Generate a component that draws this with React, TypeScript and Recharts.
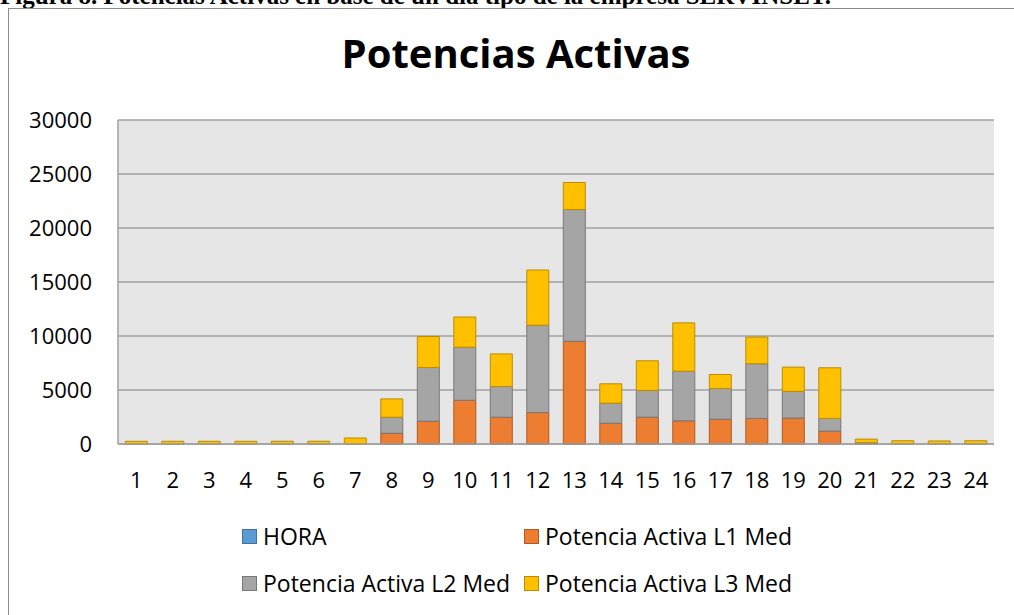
import { BarChart, Bar, XAxis, YAxis, CartesianGrid } from "recharts"

const horas = ["1", "2", "3", "4", "5", "6", "7", "8", "9", "10", "11", "12", "13", "14", "15", "16", "17", "18", "19", "20", "21", "22", "23", "24"]
const horaValues = [1, 2, 3, 4, 5, 6, 7, 8, 9, 10, 11, 12, 13, 14, 15, 16, 17, 18, 19, 20, 21, 22, 23, 24]
const l1Med = [0, 0, 0, 0, 0, 0, 0, 990, 2100, 4040, 2470, 2900, 9500, 1910, 2470, 2130, 2280, 2350, 2380, 1170, 50, 0, 0, 0]
const l2Med = [0, 0, 0, 0, 0, 0, 0, 1480, 4970, 4910, 2840, 8090, 12200, 1860, 2470, 4600, 2840, 5060, 2470, 1180, 50, 0, 0, 0]
const l3Med = [250, 250, 250, 250, 250, 250, 550, 1700, 2870, 2800, 3020, 5110, 2500, 1790, 2750, 4470, 1300, 2470, 2250, 4690, 330, 280, 260, 280]
const yTicks = [0, 5000, 10000, 15000, 20000, 25000, 30000]

const data = horas.map((h, i) => ({
  name: h,
  hora: horaValues[i],
  l1: l1Med[i],
  l2: l2Med[i],
  l3: l3Med[i],
}))

const font = "'Open Sans', sans-serif"

const legendItems = [
  { label: "HORA", color: "#5B9BD5", border: "#41719c", x: 242, y: 536 },
  { label: "Potencia Activa L1 Med", color: "#ED7D31", border: "#ae5a21", x: 524, y: 536 },
  { label: "Potencia Activa L2 Med", color: "#A5A5A5", border: "#787878", x: 242, y: 583 },
  { label: "Potencia Activa L3 Med", color: "#FFC000", border: "#bc8c00", x: 524, y: 583 },
]

export default function App() {
  return (
    <div style={{ position: "absolute", left: 0, top: 0, width: 1014, height: 615, overflow: "hidden", background: "#fff" }}>
      {/* caption above the figure, cut off by the top edge as in the source */}
      <div
        style={{
          position: "absolute",
          left: 0,
          top: -17,
          fontFamily: "'Liberation Serif', serif",
          fontWeight: "bold",
          fontSize: 25,
          lineHeight: "25px",
          whiteSpace: "nowrap",
        }}
      >
        Figura 8. Potencias Activas en base de un día tipo de la empresa SERVINSET.
      </div>
      <div style={{ position: "absolute", left: 8, top: 8, width: 1010, height: 620, borderLeft: "1px solid #8c8c8c", borderTop: "1px solid #8c8c8c" }} />
      <div
        style={{
          position: "absolute",
          left: 0,
          width: 1032,
          top: 33,
          textAlign: "center",
          fontFamily: font,
          fontWeight: "bold",
          fontSize: 40,
          lineHeight: 1,
        }}
      >
        Potencias Activas
      </div>
      <div style={{ position: "absolute", left: 0, top: 0 }}>
        <BarChart width={1014} height={615} data={data} margin={{ top: 120, right: 20, left: 28, bottom: 131 }} barCategoryGap="20%">
          <CartesianGrid vertical={false} fill="#e6e6e6" stroke="#a0a0a0" strokeWidth={1.5} />
          <XAxis
            dataKey="name"
            height={40}
            tickLine={false}
            axisLine={{ stroke: "#a0a0a0", strokeWidth: 1.5 }}
            tickMargin={22}
            interval={0}
            tick={{ fontSize: 22, fill: "#000", fontFamily: font }}
          />
          <YAxis
            width={90}
            domain={[0, 30000]}
            ticks={yTicks}
            tickLine={false}
            axisLine={{ stroke: "#a0a0a0", strokeWidth: 1.5 }}
            tickMargin={20}
            tick={{ fontSize: 22, fill: "#000", fontFamily: font }}
          />
          <Bar dataKey="hora" stackId="a" fill="#5B9BD5" stroke="#41719c" isAnimationActive={false} />
          <Bar dataKey="l1" stackId="a" fill="#ED7D31" stroke="#ae5a21" isAnimationActive={false} />
          <Bar dataKey="l2" stackId="a" fill="#A5A5A5" stroke="#787878" isAnimationActive={false} />
          <Bar dataKey="l3" stackId="a" fill="#FFC000" stroke="#bc8c00" isAnimationActive={false} />
        </BarChart>
      </div>
      {legendItems.map((item) => (
        <div
          key={item.label}
          style={{
            position: "absolute",
            left: item.x,
            top: item.y - 14,
            height: 28,
            display: "flex",
            alignItems: "center",
            fontFamily: font,
            fontSize: 23,
            whiteSpace: "nowrap",
          }}
        >
          <span style={{ display: "inline-block", width: 13, height: 13, background: item.color, border: `1px solid ${item.border}`, marginRight: 6 }} />
          {item.label}
        </div>
      ))}
    </div>
  )
}
